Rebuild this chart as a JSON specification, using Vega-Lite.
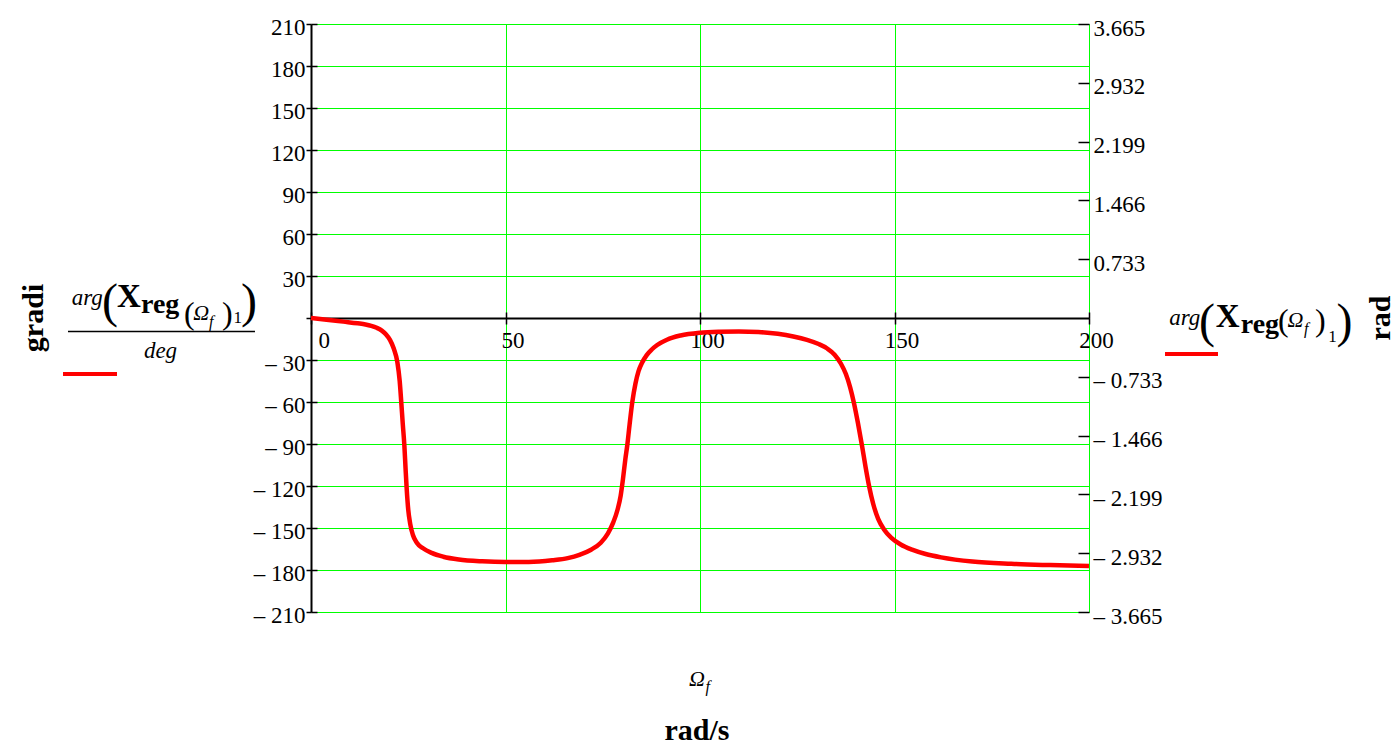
{
  "$schema": "https://vega.github.io/schema/vega-lite/v6.json",
  "width": 778,
  "height": 588,
  "autosize": "none",
  "padding": {"left": 311, "top": 24, "right": 310, "bottom": 135},
  "background": "white",
  "config": {"view": {"stroke": null}, "font": "Liberation Serif", "axis": {"gridColor": "#00ff00", "gridOpacity": 1, "grid": false}},
  "resolve": {"axis": {"x": "independent", "y": "independent"}},
  "layer": [
    {
      "data": {"values": [
        {"w": 0, "phase": 0}, {"w": 4, "phase": -1.2}, {"w": 8.3, "phase": -2.6}, {"w": 12, "phase": -3.8},
        {"w": 14, "phase": -4.6}, {"w": 15.5, "phase": -5.6}, {"w": 16.9, "phase": -7.0}, {"w": 18.2, "phase": -9.0},
        {"w": 19.3, "phase": -11.8}, {"w": 20.3, "phase": -15.6}, {"w": 21.3, "phase": -22}, {"w": 22.2, "phase": -31.5},
        {"w": 22.8, "phase": -45}, {"w": 23.2, "phase": -60}, {"w": 23.6, "phase": -76}, {"w": 24.0, "phase": -91},
        {"w": 24.3, "phase": -107}, {"w": 24.6, "phase": -122}, {"w": 25.0, "phase": -137}, {"w": 25.5, "phase": -147},
        {"w": 26.2, "phase": -155}, {"w": 27.2, "phase": -160.5}, {"w": 28.8, "phase": -164.5}, {"w": 31, "phase": -167.8},
        {"w": 34, "phase": -170.5}, {"w": 38, "phase": -172.5}, {"w": 44, "phase": -173.8}, {"w": 50, "phase": -174.3},
        {"w": 56, "phase": -174.2}, {"w": 62, "phase": -173}, {"w": 66, "phase": -171.5}, {"w": 69, "phase": -169.2},
        {"w": 72, "phase": -165.5}, {"w": 74.5, "phase": -160.5}, {"w": 76.3, "phase": -154}, {"w": 77.7, "phase": -146},
        {"w": 78.8, "phase": -137}, {"w": 79.6, "phase": -127}, {"w": 80.2, "phase": -115}, {"w": 80.8, "phase": -101},
        {"w": 81.3, "phase": -91}, {"w": 81.9, "phase": -76}, {"w": 82.6, "phase": -60}, {"w": 83.4, "phase": -47},
        {"w": 84.2, "phase": -38}, {"w": 85.1, "phase": -32}, {"w": 86.3, "phase": -26.5}, {"w": 87.6, "phase": -22.5},
        {"w": 89, "phase": -19.3}, {"w": 91.5, "phase": -15.5}, {"w": 95, "phase": -12.5}, {"w": 100, "phase": -10.5},
        {"w": 105, "phase": -9.8}, {"w": 110, "phase": -9.6}, {"w": 115, "phase": -10}, {"w": 120, "phase": -11.3},
        {"w": 124, "phase": -13.2}, {"w": 127.5, "phase": -15.6}, {"w": 130.5, "phase": -18.6}, {"w": 132.7, "phase": -21.8},
        {"w": 134.6, "phase": -26.2}, {"w": 136.2, "phase": -32.5}, {"w": 137.5, "phase": -40}, {"w": 138.6, "phase": -49.5},
        {"w": 139.6, "phase": -61}, {"w": 140.6, "phase": -75}, {"w": 141.7, "phase": -92}, {"w": 142.6, "phase": -107},
        {"w": 143.5, "phase": -120.5}, {"w": 144.5, "phase": -132.5}, {"w": 145.8, "phase": -143.5}, {"w": 147.3, "phase": -151},
        {"w": 149.2, "phase": -157}, {"w": 151.6, "phase": -161.8}, {"w": 154.5, "phase": -165.5}, {"w": 158, "phase": -168.6},
        {"w": 162, "phase": -171}, {"w": 170, "phase": -174}, {"w": 180, "phase": -175.6}, {"w": 190, "phase": -176.5},
        {"w": 200, "phase": -177.2}
      ]},
      "mark": {"type": "line", "color": "#ff0000", "strokeWidth": 4.5, "interpolate": "monotone"},
      "encoding": {
        "x": {"field": "w", "type": "quantitative",
          "scale": {"domain": [0, 200], "nice": false, "zero": false},
          "axis": {"orient": "bottom", "offset": -294, "values": [0, 50, 100, 150, 200], "title": null, "grid": false,
            "domainColor": "black", "domainWidth": 2, "tickColor": "black", "tickWidth": 1.5, "tickSize": 6,
            "labelFont": "Liberation Serif", "labelFontSize": 23, "labelColor": "black", "labelPadding": 5,
            "labelOffset": 7, "labelFlush": false, "labelBaseline": "top",
            "labelAlign": {"condition": {"test": "datum.value == 0", "value": "left"}, "value": "center"}}},
        "y": {"field": "phase", "type": "quantitative",
          "scale": {"domain": [-210, 210], "nice": false, "zero": false},
          "axis": {"orient": "left", "values": [-210, -180, -150, -120, -90, -60, -30, 0, 30, 60, 90, 120, 150, 180, 210],
            "title": null, "grid": true, "gridColor": "#00ff00", "gridOpacity": 1, "gridWidth": 1,
            "domainColor": "black", "domainWidth": 2, "tickColor": "black", "tickWidth": 1.5, "tickSize": 5,
            "labelFont": "Liberation Serif", "labelFontSize": 23, "labelColor": "black", "labelPadding": 1,
            "labelOffset": 3, "labelFlush": false,
            "labelExpr": "datum.value == 0 ? '' : (datum.value < 0 ? '\u2013 ' + format(-datum.value, 'd') : format(datum.value, 'd'))"}}
      }
    },
    {
      "data": {"values": [{}]},
      "mark": {"type": "text", "text": "gradi", "font": "Liberation Serif", "fontWeight": "bold", "fontSize": 30, "angle": 270, "align": "center", "baseline": "middle", "color": "black"},
      "encoding": {
        "x": {"datum": -71.2, "type": "quantitative",
          "axis": {"orient": "top", "offset": -294, "values": [0, 50, 100, 150, 200], "title": null, "grid": false, "domain": false, "labels": false,
            "tickColor": "black", "tickWidth": 1.5, "tickSize": 6}},
        "y": {"datum": 0, "type": "quantitative",
          "axis": {"orient": "right", "offset": -778, "values": [-210, -180, -150, -120, -90, -60, -30, 0, 30, 60, 90, 120, 150, 180, 210],
            "title": null, "grid": false, "domain": false, "labels": false, "tickColor": "black", "tickWidth": 1.5, "tickSize": 6}}
      }
    },
    {
      "data": {"values": [{}]},
      "mark": {"type": "text", "text": "rad", "font": "Liberation Serif", "fontWeight": "bold", "fontSize": 30, "angle": 270, "align": "center", "baseline": "middle", "color": "black"},
      "encoding": {
        "x": {"datum": 275.06, "type": "quantitative",
          "axis": {"orient": "bottom", "values": [50, 100, 150, 200], "title": null, "grid": true, "gridColor": "#00ff00", "gridOpacity": 1, "gridWidth": 1,
            "domain": false, "labels": false, "ticks": false}},
        "y": {"datum": 0, "type": "quantitative",
          "axis": {"orient": "right", "values": [-210, -168, -126, -84, -42, 42, 84, 126, 168, 210], "title": null, "grid": false, "domain": false,
            "tickColor": "black", "tickWidth": 1.5, "tickSize": -11,
            "labelFont": "Liberation Serif", "labelFontSize": 23, "labelColor": "black", "labelPadding": 15,
            "labelOffset": 4, "labelFlush": false,
            "labelExpr": "datum.value == 0 ? '' : (datum.value < 0 ? '\u2013 ' : '') + format(abs(datum.value) * PI / 180, '.3f')"}}
      }
    },
    {"data": {"values": [{}]}, "mark": {"type": "text", "text": "arg", "font": "Liberation Serif", "fontStyle": "italic", "fontSize": 23, "align": "left", "baseline": "alphabetic", "color": "black"},
     "encoding": {"x": {"datum": -61.5, "type": "quantitative", "axis": null}, "y": {"datum": 9.3, "type": "quantitative", "axis": null}}},
    {"data": {"values": [{}]}, "mark": {"type": "text", "text": "(", "font": "Liberation Serif", "fontSize": 48, "align": "left", "baseline": "alphabetic", "color": "black"},
     "encoding": {"x": {"datum": -53.7, "type": "quantitative", "axis": null}, "y": {"datum": 0.71, "type": "quantitative", "axis": null}}},
    {"data": {"values": [{}]}, "mark": {"type": "text", "text": "X", "font": "Liberation Serif", "fontWeight": "bold", "fontSize": 33, "align": "left", "baseline": "alphabetic", "color": "black"},
     "encoding": {"x": {"datum": -49.9, "type": "quantitative", "axis": null}, "y": {"datum": 7.86, "type": "quantitative", "axis": null}}},
    {"data": {"values": [{}]}, "mark": {"type": "text", "text": "reg", "font": "Liberation Serif", "fontWeight": "bold", "fontSize": 28, "align": "left", "baseline": "alphabetic", "color": "black"},
     "encoding": {"x": {"datum": -43.7, "type": "quantitative", "axis": null}, "y": {"datum": 3.57, "type": "quantitative", "axis": null}}},
    {"data": {"values": [{}]}, "mark": {"type": "text", "text": "(", "font": "Liberation Serif", "fontSize": 32, "align": "left", "baseline": "alphabetic", "color": "black"},
     "encoding": {"x": {"datum": -32.65, "type": "quantitative", "axis": null}, "y": {"datum": -4.29, "type": "quantitative", "axis": null}}},
    {"data": {"values": [{}]}, "mark": {"type": "text", "text": "Ω", "font": "Liberation Serif", "fontStyle": "italic", "fontSize": 22, "align": "left", "baseline": "alphabetic", "color": "black"},
     "encoding": {"x": {"datum": -30.3, "type": "quantitative", "axis": null}, "y": {"datum": -1.43, "type": "quantitative", "axis": null}}},
    {"data": {"values": [{}]}, "mark": {"type": "text", "text": "f", "font": "Liberation Serif", "fontStyle": "italic", "fontSize": 16, "align": "left", "baseline": "alphabetic", "color": "black"},
     "encoding": {"x": {"datum": -26.2, "type": "quantitative", "axis": null}, "y": {"datum": -6.43, "type": "quantitative", "axis": null}}},
    {"data": {"values": [{}]}, "mark": {"type": "text", "text": ")", "font": "Liberation Serif", "fontSize": 32, "align": "left", "baseline": "alphabetic", "color": "black"},
     "encoding": {"x": {"datum": -22.9, "type": "quantitative", "axis": null}, "y": {"datum": -4.29, "type": "quantitative", "axis": null}}},
    {"data": {"values": [{}]}, "mark": {"type": "text", "text": "1", "font": "Liberation Serif", "fontSize": 17, "align": "left", "baseline": "alphabetic", "color": "black"},
     "encoding": {"x": {"datum": -19.9, "type": "quantitative", "axis": null}, "y": {"datum": -3.57, "type": "quantitative", "axis": null}}},
    {"data": {"values": [{}]}, "mark": {"type": "text", "text": ")", "font": "Liberation Serif", "fontSize": 48, "align": "left", "baseline": "alphabetic", "color": "black"},
     "encoding": {"x": {"datum": -18.0, "type": "quantitative", "axis": null}, "y": {"datum": 0.71, "type": "quantitative", "axis": null}}},
    {"data": {"values": [{}]}, "mark": {"type": "rule", "color": "black", "strokeWidth": 1.5},
     "encoding": {"x": {"datum": -62.47, "type": "quantitative", "axis": null}, "x2": {"datum": -14.4}, "y": {"datum": -9.64, "type": "quantitative", "axis": null}}},
    {"data": {"values": [{}]}, "mark": {"type": "text", "text": "deg", "font": "Liberation Serif", "fontStyle": "italic", "fontSize": 23, "align": "center", "baseline": "alphabetic", "color": "black"},
     "encoding": {"x": {"datum": -38.69, "type": "quantitative", "axis": null}, "y": {"datum": -28.57, "type": "quantitative", "axis": null}}},
    {"data": {"values": [{}]}, "mark": {"type": "rule", "color": "#ff0000", "strokeWidth": 4},
     "encoding": {"x": {"datum": -63.75, "type": "quantitative", "axis": null}, "x2": {"datum": -49.87}, "y": {"datum": -40.0, "type": "quantitative", "axis": null}}},
    {"data": {"values": [{}]}, "mark": {"type": "text", "text": "arg", "font": "Liberation Serif", "fontStyle": "italic", "fontSize": 23, "align": "left", "baseline": "alphabetic", "color": "black"},
     "encoding": {"x": {"datum": 220.6, "type": "quantitative", "axis": null}, "y": {"datum": -5.0, "type": "quantitative", "axis": null}}},
    {"data": {"values": [{}]}, "mark": {"type": "text", "text": "(", "font": "Liberation Serif", "fontSize": 48, "align": "left", "baseline": "alphabetic", "color": "black"},
     "encoding": {"x": {"datum": 228.3, "type": "quantitative", "axis": null}, "y": {"datum": -13.57, "type": "quantitative", "axis": null}}},
    {"data": {"values": [{}]}, "mark": {"type": "text", "text": "X", "font": "Liberation Serif", "fontWeight": "bold", "fontSize": 33, "align": "left", "baseline": "alphabetic", "color": "black"},
     "encoding": {"x": {"datum": 232.6, "type": "quantitative", "axis": null}, "y": {"datum": -6.43, "type": "quantitative", "axis": null}}},
    {"data": {"values": [{}]}, "mark": {"type": "text", "text": "reg", "font": "Liberation Serif", "fontWeight": "bold", "fontSize": 28, "align": "left", "baseline": "alphabetic", "color": "black"},
     "encoding": {"x": {"datum": 239.0, "type": "quantitative", "axis": null}, "y": {"datum": -10.71, "type": "quantitative", "axis": null}}},
    {"data": {"values": [{}]}, "mark": {"type": "text", "text": "(", "font": "Liberation Serif", "fontSize": 32, "align": "left", "baseline": "alphabetic", "color": "black"},
     "encoding": {"x": {"datum": 248.59, "type": "quantitative", "axis": null}, "y": {"datum": -9.29, "type": "quantitative", "axis": null}}},
    {"data": {"values": [{}]}, "mark": {"type": "text", "text": "Ω", "font": "Liberation Serif", "fontStyle": "italic", "fontSize": 22, "align": "left", "baseline": "alphabetic", "color": "black"},
     "encoding": {"x": {"datum": 251.0, "type": "quantitative", "axis": null}, "y": {"datum": -6.43, "type": "quantitative", "axis": null}}},
    {"data": {"values": [{}]}, "mark": {"type": "text", "text": "f", "font": "Liberation Serif", "fontStyle": "italic", "fontSize": 16, "align": "left", "baseline": "alphabetic", "color": "black"},
     "encoding": {"x": {"datum": 255.3, "type": "quantitative", "axis": null}, "y": {"datum": -11.43, "type": "quantitative", "axis": null}}},
    {"data": {"values": [{}]}, "mark": {"type": "text", "text": ")", "font": "Liberation Serif", "fontSize": 32, "align": "left", "baseline": "alphabetic", "color": "black"},
     "encoding": {"x": {"datum": 258.1, "type": "quantitative", "axis": null}, "y": {"datum": -9.29, "type": "quantitative", "axis": null}}},
    {"data": {"values": [{}]}, "mark": {"type": "text", "text": "1", "font": "Liberation Serif", "fontSize": 17, "align": "left", "baseline": "alphabetic", "color": "black"},
     "encoding": {"x": {"datum": 261.5, "type": "quantitative", "axis": null}, "y": {"datum": -17.14, "type": "quantitative", "axis": null}}},
    {"data": {"values": [{}]}, "mark": {"type": "text", "text": ")", "font": "Liberation Serif", "fontSize": 48, "align": "left", "baseline": "alphabetic", "color": "black"},
     "encoding": {"x": {"datum": 263.6, "type": "quantitative", "axis": null}, "y": {"datum": -13.57, "type": "quantitative", "axis": null}}},
    {"data": {"values": [{}]}, "mark": {"type": "rule", "color": "#ff0000", "strokeWidth": 4},
     "encoding": {"x": {"datum": 219.54, "type": "quantitative", "axis": null}, "x2": {"datum": 233.16}, "y": {"datum": -25.71, "type": "quantitative", "axis": null}}},
    {"data": {"values": [{}]}, "mark": {"type": "text", "text": "Ω", "font": "Liberation Serif", "fontStyle": "italic", "fontSize": 22, "align": "left", "baseline": "alphabetic", "color": "black"},
     "encoding": {"x": {"datum": 97.2, "type": "quantitative", "axis": null}, "y": {"datum": -262.86, "type": "quantitative", "axis": null}}},
    {"data": {"values": [{}]}, "mark": {"type": "text", "text": "f", "font": "Liberation Serif", "fontStyle": "italic", "fontSize": 16, "align": "left", "baseline": "alphabetic", "color": "black"},
     "encoding": {"x": {"datum": 101.4, "type": "quantitative", "axis": null}, "y": {"datum": -267.1, "type": "quantitative", "axis": null}}},
    {"data": {"values": [{}]}, "mark": {"type": "text", "text": "rad/s", "font": "Liberation Serif", "fontWeight": "bold", "fontSize": 30, "align": "center", "baseline": "alphabetic", "color": "black"},
     "encoding": {"x": {"datum": 99.23, "type": "quantitative", "axis": null}, "y": {"datum": -301.4, "type": "quantitative", "axis": null}}}
  ]
}
